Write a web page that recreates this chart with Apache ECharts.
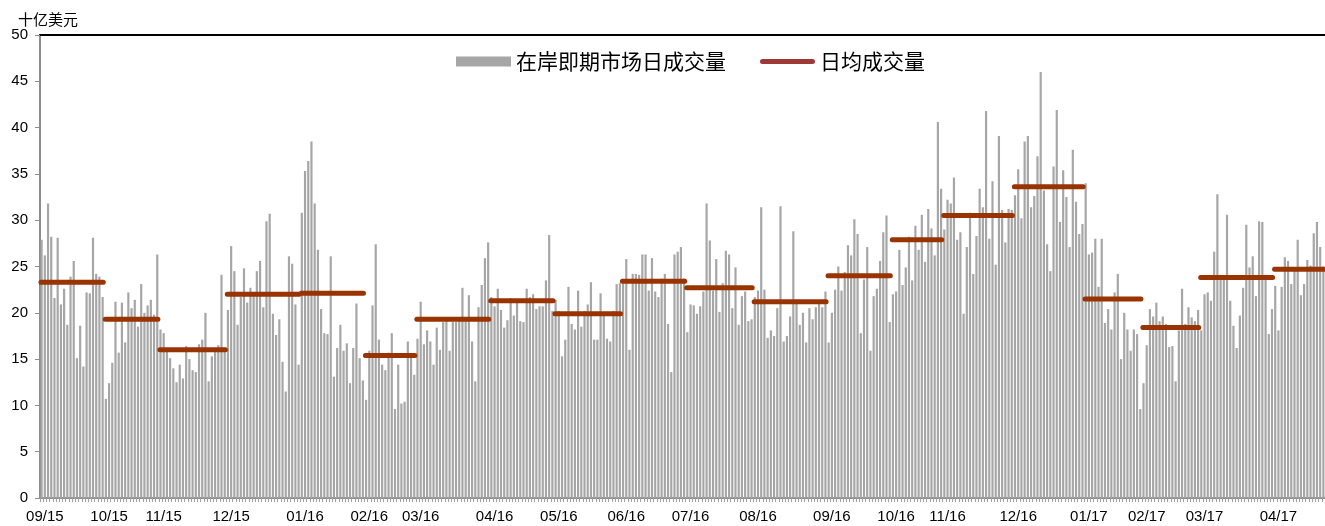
<!DOCTYPE html>
<html>
<head>
<meta charset="utf-8">
<script src="https://cdn.jsdelivr.net/npm/echarts@6/dist/echarts.min.js"></script>
<style>
html,body{margin:0;padding:0;background:#fff;}
#chart{width:1325px;height:526px;}
</style>
</head>
<body>
<div id="chart"></div>
<script>
// Month labels and number of trading days shown per month
const months = ['09/15','10/15','11/15','12/15','01/16','02/16','03/16','04/16','05/16','06/16',
                '07/16','08/16','09/16','10/16','11/16','12/16','01/17','02/17','03/17','04/17'];
const dayCounts = [20,17,21,23,20,16,23,20,21,20,21,23,20,16,22,22,18,18,23,16];

// Monthly average daily turnover (USD bn)
const monthAvg = [23.3,19.3,16.0,22.0,22.1,15.4,19.3,21.3,19.9,23.4,22.7,21.2,24.0,27.9,30.5,33.6,21.5,18.4,23.8,24.7];

// Daily onshore spot turnover (USD bn)
const dailyVolume = [
  // 09/15
  27.9,26.2,31.8,28.2,21.6,28.1,20.9,22.6,18.7,23.9,25.6,15.1,18.6,14.2,22.2,22.1,28.1,24.2,23.9,21.7,
  // 10/15
  10.7,12.4,14.6,21.2,15.7,21.1,16.8,22.2,20.5,21.4,18.5,23.1,20.0,20.8,21.4,19.8,26.3,
  // 11/15
  18.2,17.8,16.2,15.1,14.0,12.5,14.4,12.9,16.4,15.0,13.8,13.6,16.6,17.1,20.0,12.6,15.3,15.8,16.5,24.1,15.8,
  // 12/15
  20.3,27.2,24.5,18.7,21.7,24.8,21.1,22.7,22.1,24.5,25.6,20.6,29.9,30.7,19.9,17.6,19.3,14.7,11.5,26.1,25.3,20.9,14.4,
  // 01/16
  30.8,35.3,36.4,38.5,31.8,26.8,20.4,17.8,17.7,26.1,13.1,16.2,18.7,15.9,16.7,12.4,16.2,21.0,15.1,12.7,
  // 02/16
  10.6,15.9,20.8,27.4,17.1,14.4,13.8,15.7,17.8,9.6,14.4,10.2,10.4,16.9,15.6,13.3,
  // 03/16
  17.2,21.2,16.6,18.1,16.9,14.4,18.4,16.0,19.0,19.5,15.9,19.0,19.0,19.2,22.7,19.4,21.9,16.9,12.6,20.6,23.0,25.9,27.6,
  // 04/16
  21.7,20.7,22.6,20.3,18.4,19.2,21.6,19.7,21.3,19.1,19.0,22.6,21.7,22.0,20.4,20.7,20.7,23.5,28.4,20.2,
  // 05/16
  21.4,20.2,15.3,17.1,22.8,18.8,18.2,22.4,18.5,20.2,20.9,23.3,17.1,17.1,22.1,19.9,17.2,16.9,20.2,23.1,23.2,
  // 06/16
  23.2,25.8,16.0,24.2,24.2,24.1,26.3,26.3,22.4,25.9,22.3,21.7,23.7,24.2,18.8,13.6,26.3,26.6,27.1,23.7,
  // 07/16
  17.9,20.9,20.8,19.9,20.7,22.3,31.8,27.8,22.4,25.8,20.1,23.2,26.7,26.3,20.5,24.9,18.7,21.8,22.3,19.1,19.3,
  // 08/16
  21.7,22.4,31.4,22.5,17.3,18.1,17.5,20.5,31.5,16.9,17.5,19.6,28.8,21.4,18.7,20.0,16.8,20.5,19.3,20.6,21.4,20.6,22.3,
  // 09/16
  16.8,20.0,22.5,25.0,22.4,24.4,27.3,26.2,30.1,28.5,17.8,23.6,27.1,15.9,21.8,22.6,25.6,28.7,30.5,19.0,
  // 10/16
  22.0,22.3,26.8,23.0,24.9,28.2,23.5,29.4,26.8,30.6,25.5,31.2,29.1,26.2,40.6,33.4,
  // 11/16
  29.0,32.2,31.8,34.6,27.9,28.7,19.9,27.1,30.8,24.2,28.3,33.4,31.4,41.8,28.0,34.2,25.2,39.1,31.1,27.6,31.2,31.1,
  // 12/16
  32.7,35.5,30.2,38.5,39.1,31.4,32.6,36.9,46.0,33.2,27.4,24.5,35.8,41.9,29.8,35.4,32.5,27.1,37.6,32.0,28.5,29.6,
  // 01/17
  34.0,26.3,26.5,28.0,22.8,28.0,18.9,20.4,18.2,22.2,24.2,15.0,20.0,18.2,15.9,18.2,17.7,9.6,
  // 02/17
  12.4,16.5,20.4,19.6,21.1,19.1,19.6,18.8,16.3,16.4,12.6,18.1,22.6,18.8,20.6,19.5,19.1,20.3,
  // 03/17
  18.1,22.0,22.2,21.3,26.6,32.8,24.1,24.0,30.6,21.3,18.6,16.2,19.7,22.7,29.5,24.9,26.1,21.8,29.9,29.8,24.1,17.7,20.4,
  // 04/17
  22.9,18.1,22.8,26.0,25.6,23.1,24.9,27.9,21.9,23.1,25.7,25.1,28.6,29.8,27.1,25.0
];

const yTicks = [0,5,10,15,20,25,30,35,40,45,50];

// ---- build library structures from the arrays ----
const categories = [];
const monthStart = [];
let idx = 0;
months.forEach((m, k) => {
  monthStart.push(idx);
  for (let d = 1; d <= dayCounts[k]; d++) { categories.push(m + '-' + d); }
  idx += dayCounts[k];
});
const total = idx;
const labelIdx = new Set(monthStart.map(s => s + 1));

const avgLine = [];
months.forEach((m, k) => {
  const s = monthStart[k], e = s + dayCounts[k];
  avgLine.push([s + 0.3, monthAvg[k]], [e - 0.3, monthAvg[k]], [e, '-']);
});

const chart = echarts.init(document.getElementById('chart'), null, {renderer: 'canvas'});
chart.setOption({
  animation: false,
  backgroundColor: '#fff',
  title: {
    text: '十亿美元', left: 13, top: 7,
    textStyle: {fontSize: 15, fontWeight: 'normal', color: '#000', fontFamily: 'Noto Sans CJK SC'}
  },
  legend: {
    left: 451, top: 46, itemWidth: 55, itemHeight: 10, itemGap: 34,
    textStyle: {fontSize: 21, color: '#000', fontFamily: 'Noto Sans CJK SC'},
    data: [
      {name: '在岸即期市场日成交量', icon: 'rect'},
      {name: '日均成交量', itemStyle: {color: '#9e3a36'},
       icon: 'path://M0,0 L55,0 L55,0.01 L0,0.01 Z M2.5,2.5 L52.5,2.5 A2.5,2.5 0 0 1 52.5,7.5 L2.5,7.5 A2.5,2.5 0 0 1 2.5,2.5 Z M0,9.99 L55,9.99 L55,10 L0,10 Z'}
    ]
  },
  grid: {left: 40, right: 0, top: 35, bottom: 28},
  xAxis: [
    {
      type: 'category', data: categories, boundaryGap: true, position: 'bottom',
      axisLine: {show: true, lineStyle: {color: '#8c8c8c', width: 2}},
      axisTick: {show: true, interval: 0, length: 4, lineStyle: {color: '#a0a0a0'}},
      axisLabel: {
        interval: (i) => labelIdx.has(i),
        formatter: (v) => v.split('-')[0],
        fontSize: 15, color: '#000', fontFamily: 'Liberation Sans', margin: 11
      },
      splitLine: {show: false}
    },
    {
      type: 'value', min: 0, max: total, position: 'top',
      axisLine: {show: true, onZero: false, lineStyle: {color: '#000', width: 2}},
      axisTick: {show: false}, axisLabel: {show: false}, splitLine: {show: false}
    }
  ],
  yAxis: {
    type: 'value', min: yTicks[0], max: yTicks[yTicks.length - 1], interval: 5,
    axisLine: {show: true, lineStyle: {color: '#8c8c8c', width: 2}},
    axisTick: {show: true, length: 5, lineStyle: {color: '#8c8c8c'}},
    axisLabel: {fontSize: 15, color: '#000', fontFamily: 'Liberation Sans', margin: 12},
    splitLine: {show: false}
  },
  series: [
    {
      name: '在岸即期市场日成交量', type: 'bar', xAxisIndex: 0, yAxisIndex: 0,
      data: dailyVolume, barCategoryGap: '32%',
      itemStyle: {color: '#a6a6a6'}
    },
    {
      name: '日均成交量', type: 'line', xAxisIndex: 1, yAxisIndex: 0,
      data: avgLine, symbol: 'none', connectNulls: false,
      itemStyle: {color: '#993300'},
      lineStyle: {color: '#993300', width: 5, cap: 'round'}
    }
  ]
});
</script>
</body>
</html>
